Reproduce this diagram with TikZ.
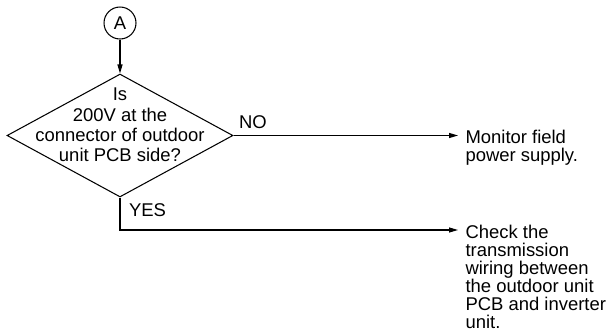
\documentclass[tikz,border=0pt]{standalone}
\usepackage{fontspec}
\setmainfont{Liberation Sans}
\usetikzlibrary{shapes.geometric, arrows.meta}

\begin{document}
\begin{tikzpicture}[x=0.02cm,y=-0.02cm,line width=0.6pt,
  arr/.style={-{Triangle[length=0.18cm,width=0.1cm]}},
  txt/.style={inner sep=0pt,font=\fontsize{10.5}{10.2}\selectfont},
  msg/.style={txt,align=left,anchor=north west,inner xsep=0.14cm}]

\useasboundingbox (0,0) rectangle (611,332);

\node[circle,draw,minimum size=0.64cm,inner sep=0pt,font=\fontsize{10.5}{10.5}\selectfont] (A) at (120,23) {A};

\node[diamond,draw,minimum width=4.52cm,minimum height=2.46cm,inner sep=0pt] (q) at (120,135.5) {};
\node[txt,align=center,font=\fontsize{10.5}{11.6}\selectfont] (qtext) at (120,125) {Is\\200V at the\\connector of outdoor\\unit PCB side?};

\draw[arr] (A) -- (q.north);

\node[msg] (nomsg) at (458,129.5) {Monitor field\\power supply.};
\node[msg] (yesmsg) at (458,225) {Check the\\transmission\\wiring between\\the outdoor unit\\PCB and inverter\\unit.};

\coordinate (yesend) at (458,230);

\draw[arr] (q.east) -- (q.east -| nomsg.west);
\draw[arr] (q.south) |- (yesend);

\node[txt] (no) at (253,122) {NO};
\node[txt] (yes) at (147.5,210) {YES};

\end{tikzpicture}
\end{document}
